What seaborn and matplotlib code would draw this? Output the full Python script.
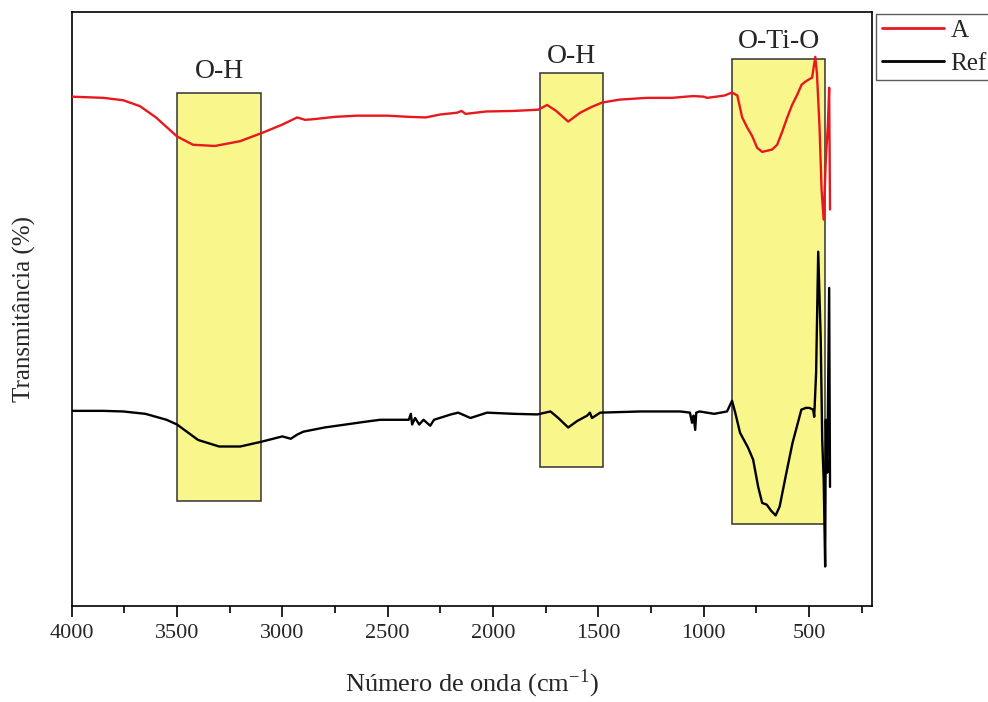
#!/usr/bin/env python3

# FTIR spectra of sample A and reference, with the band regions highlighted.
import matplotlib.pyplot as plt
import matplotlib.patches as patches
import pandas
import seaborn as sns
from matplotlib.lines import Line2D
from matplotlib.ticker import MultipleLocator

# Sample A (wavenumber in cm-1, transmittance in arbitrary units)
a_wavenumber = [
    4000, 3850, 3756, 3676, 3600, 3500, 3424, 3320, 3201, 3096, 3000, 2930,
    2892, 2854, 2750, 2645, 2500, 2400, 2320, 2250, 2170, 2150, 2130, 2034,
    1900, 1786, 1743, 1700, 1643, 1586, 1530, 1482, 1400, 1268, 1150, 1050,
    1000, 983, 940, 900, 865, 840, 817, 793, 770, 746, 722, 698, 675, 651,
    627, 603, 580, 556, 535, 518, 500, 485, 470, 462, 450, 440, 430, 420,
    410, 404, 400,
]
a_transmittance = [
    85.7, 85.5, 85.1, 84.1, 82.2, 79.0, 77.6, 77.4, 78.2, 79.6, 81.0, 82.2,
    81.8, 81.9, 82.3, 82.5, 82.5, 82.3, 82.2, 82.7, 83.0, 83.3, 82.8, 83.2,
    83.3, 83.5, 84.3, 83.3, 81.5, 83.0, 84.0, 84.7, 85.2, 85.5, 85.5, 85.8,
    85.7, 85.5, 85.7, 85.9, 86.4, 85.9, 82.2, 80.5, 79.1, 77.1, 76.4, 76.6,
    76.8, 77.6, 79.8, 82.2, 84.3, 86.0, 87.7, 88.2, 88.6, 88.9, 92.4, 89.6,
    80.8, 70.0, 65.0, 75.0, 81.0, 87.2, 66.7,
]

# Reference sample
ref_wavenumber = [
    4000, 3850, 3756, 3650, 3550, 3500, 3400, 3300, 3200, 3100, 3000, 2960,
    2930, 2900, 2800, 2700, 2600, 2535, 2400, 2390, 2384, 2370, 2350, 2330,
    2298, 2280, 2200, 2165, 2107, 2028, 1900, 1790, 1727, 1690, 1643, 1600,
    1553, 1540, 1530, 1491, 1300, 1111, 1065, 1055, 1048, 1040, 1035, 1020,
    950, 889, 865, 850, 827, 789, 765, 741, 722, 700, 680, 658, 639, 607,
    578, 536, 515, 498, 480, 475, 466, 456, 444, 437, 430, 423, 420, 413,
    404, 400,
]
ref_transmittance = [
    32.8, 32.8, 32.7, 32.3, 31.3, 30.5, 27.9, 26.8, 26.8, 27.6, 28.5, 28.1,
    28.8, 29.3, 30.0, 30.5, 31.0, 31.3, 31.3, 32.3, 30.5, 31.6, 30.5, 31.3,
    30.3, 31.3, 32.2, 32.5, 31.6, 32.5, 32.3, 32.2, 32.7, 31.6, 30.0, 31.1,
    32.0, 32.5, 31.6, 32.5, 32.7, 32.7, 32.5, 30.8, 32.0, 29.6, 32.5, 32.7,
    32.3, 32.7, 34.5, 32.5, 29.1, 26.6, 24.6, 20.0, 17.3, 17.0, 16.0, 15.2,
    16.7, 22.4, 27.4, 33.0, 33.3, 33.3, 33.0, 31.8, 39.2, 59.6, 44.8, 27.9,
    21.2, 6.6, 31.3, 22.4, 53.5, 20.0,
]

# Highlighted band regions: label, wavenumber range, transmittance range
band_labels = ["O-H", "O-H", "O-Ti-O"]
band_wn_high = [3500, 1775, 865]
band_wn_low = [3100, 1480, 423]
band_t_low = [17.7, 23.4, 13.8]
band_t_high = [86.4, 89.6, 92.1]
band_label_t = [89.9, 92.4, 95.0]

series_names = ["A", "Ref"]
series_colors = {"A": "#e8191e", "Ref": "#000000"}


def build_frame():
    """
    Long format data frame for seaborn
    """
    df_a = pandas.DataFrame(
        {"wavenumber": a_wavenumber, "transmittance": a_transmittance, "sample": "A"}
    )
    df_ref = pandas.DataFrame(
        {"wavenumber": ref_wavenumber, "transmittance": ref_transmittance, "sample": "Ref"}
    )
    return pandas.concat([df_a, df_ref], ignore_index=True)


def main():
    sns.set_theme(style="ticks")
    plt.rcParams["font.family"] = ["Liberation Serif", "DejaVu Serif"]
    plt.rcParams["mathtext.fontset"] = "stix"

    df = build_frame()

    fig = plt.figure(figsize=(9.88, 7.02), dpi=100)
    ax = fig.add_axes([0.0726, 0.1372, 0.8097, 0.8461])

    # Yellow band boxes go under the spectra
    for label, hi, lo, tlo, thi, tlab in zip(
        band_labels, band_wn_high, band_wn_low, band_t_low, band_t_high, band_label_t
    ):
        rect = patches.Rectangle(
            (lo, tlo), hi - lo, thi - tlo,
            facecolor="#f9f68c", edgecolor="#333333", linewidth=1.1, zorder=1,
        )
        ax.add_patch(rect)
        ax.text((hi + lo) / 2, tlab, label, ha="center", va="center", fontsize=20)

    sns.lineplot(
        data=df, x="wavenumber", y="transmittance", hue="sample",
        palette=series_colors, sort=False, estimator=None, linewidth=1.7,
        legend=False, ax=ax, zorder=3,
    )

    ax.set_xlim(4000, 202)
    ax.set_ylim(0, 100)
    ax.xaxis.set_major_locator(MultipleLocator(500))
    ax.xaxis.set_minor_locator(MultipleLocator(250))
    ax.set_yticks([])
    ax.tick_params(axis="x", which="major", direction="out", length=8, width=1.2,
                   labelsize=16, color="black", pad=5)
    ax.tick_params(axis="x", which="minor", direction="out", length=5, width=1.2,
                   color="black")
    for spine in ax.spines.values():
        spine.set_visible(True)
        spine.set_color("black")
        spine.set_linewidth(1.2)

    ax.set_xlabel("Número de onda (cm$^{\\mathregular{-1}}$)", fontsize=19, labelpad=18)
    ax.set_ylabel("Transmitância (%)", fontsize=18, labelpad=26)

    handles = [Line2D([0], [0], color=series_colors[n], linewidth=2) for n in series_names]
    leg = ax.legend(
        handles, series_names, loc="upper left",
        bbox_to_anchor=(876 / 988, 1 - 14 / 702), bbox_transform=fig.transFigure,
        fontsize=18, frameon=True, fancybox=False, edgecolor="#333333",
        handlelength=2.5, handletextpad=0.25, borderpad=0.22, borderaxespad=0,
        labelspacing=0.4,
    )
    leg.get_frame().set_linewidth(1.0)

    fig.savefig("out.png", dpi=100)
    plt.close(fig)


if __name__ == "__main__":
    main()
